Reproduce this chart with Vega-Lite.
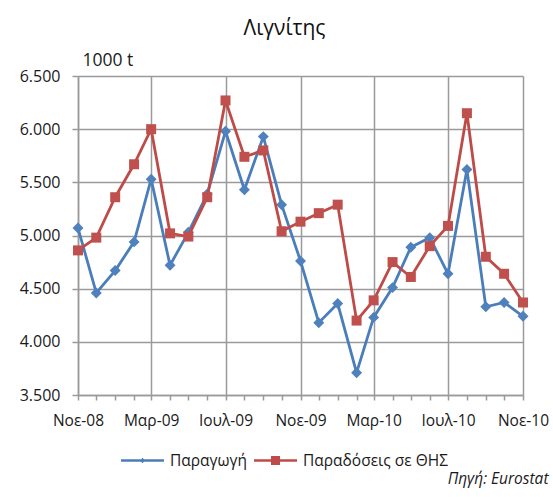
{
  "$schema": "https://vega.github.io/schema/vega-lite/v6.json",
  "width": 445,
  "height": 319,
  "autosize": {"type": "none"},
  "padding": {"left": 78, "top": 76, "right": 30, "bottom": 102},
  "background": "white",
  "title": {
    "text": "Λιγνίτης",
    "font": "Open Sans",
    "fontSize": 21,
    "fontWeight": "normal",
    "color": "#111",
    "anchor": "middle",
    "frame": "group",
    "dx": -16,
    "offset": 12
  },
  "datasets": {
    "lignite": [
      {"date": "2008-11-01", "series": "Παραγωγή", "value": 5070},
      {"date": "2008-12-01", "series": "Παραγωγή", "value": 4460},
      {"date": "2009-01-01", "series": "Παραγωγή", "value": 4670},
      {"date": "2009-02-01", "series": "Παραγωγή", "value": 4940},
      {"date": "2009-03-01", "series": "Παραγωγή", "value": 5530},
      {"date": "2009-04-01", "series": "Παραγωγή", "value": 4720},
      {"date": "2009-05-01", "series": "Παραγωγή", "value": 5030},
      {"date": "2009-06-01", "series": "Παραγωγή", "value": 5390},
      {"date": "2009-07-01", "series": "Παραγωγή", "value": 5980},
      {"date": "2009-08-01", "series": "Παραγωγή", "value": 5430},
      {"date": "2009-09-01", "series": "Παραγωγή", "value": 5930},
      {"date": "2009-10-01", "series": "Παραγωγή", "value": 5290},
      {"date": "2009-11-01", "series": "Παραγωγή", "value": 4760},
      {"date": "2009-12-01", "series": "Παραγωγή", "value": 4180},
      {"date": "2010-01-01", "series": "Παραγωγή", "value": 4360},
      {"date": "2010-02-01", "series": "Παραγωγή", "value": 3710},
      {"date": "2010-03-01", "series": "Παραγωγή", "value": 4230},
      {"date": "2010-04-01", "series": "Παραγωγή", "value": 4510},
      {"date": "2010-05-01", "series": "Παραγωγή", "value": 4890},
      {"date": "2010-06-01", "series": "Παραγωγή", "value": 4980},
      {"date": "2010-07-01", "series": "Παραγωγή", "value": 4640},
      {"date": "2010-08-01", "series": "Παραγωγή", "value": 5620},
      {"date": "2010-09-01", "series": "Παραγωγή", "value": 4330},
      {"date": "2010-10-01", "series": "Παραγωγή", "value": 4370},
      {"date": "2010-11-01", "series": "Παραγωγή", "value": 4240},
      {"date": "2008-11-01", "series": "Παραδόσεις σε ΘΗΣ", "value": 4860},
      {"date": "2008-12-01", "series": "Παραδόσεις σε ΘΗΣ", "value": 4980},
      {"date": "2009-01-01", "series": "Παραδόσεις σε ΘΗΣ", "value": 5360},
      {"date": "2009-02-01", "series": "Παραδόσεις σε ΘΗΣ", "value": 5670},
      {"date": "2009-03-01", "series": "Παραδόσεις σε ΘΗΣ", "value": 6000},
      {"date": "2009-04-01", "series": "Παραδόσεις σε ΘΗΣ", "value": 5020},
      {"date": "2009-05-01", "series": "Παραδόσεις σε ΘΗΣ", "value": 4990},
      {"date": "2009-06-01", "series": "Παραδόσεις σε ΘΗΣ", "value": 5360},
      {"date": "2009-07-01", "series": "Παραδόσεις σε ΘΗΣ", "value": 6270},
      {"date": "2009-08-01", "series": "Παραδόσεις σε ΘΗΣ", "value": 5740},
      {"date": "2009-09-01", "series": "Παραδόσεις σε ΘΗΣ", "value": 5800},
      {"date": "2009-10-01", "series": "Παραδόσεις σε ΘΗΣ", "value": 5040},
      {"date": "2009-11-01", "series": "Παραδόσεις σε ΘΗΣ", "value": 5130},
      {"date": "2009-12-01", "series": "Παραδόσεις σε ΘΗΣ", "value": 5210},
      {"date": "2010-01-01", "series": "Παραδόσεις σε ΘΗΣ", "value": 5290},
      {"date": "2010-02-01", "series": "Παραδόσεις σε ΘΗΣ", "value": 4200},
      {"date": "2010-03-01", "series": "Παραδόσεις σε ΘΗΣ", "value": 4390},
      {"date": "2010-04-01", "series": "Παραδόσεις σε ΘΗΣ", "value": 4750},
      {"date": "2010-05-01", "series": "Παραδόσεις σε ΘΗΣ", "value": 4610},
      {"date": "2010-06-01", "series": "Παραδόσεις σε ΘΗΣ", "value": 4900},
      {"date": "2010-07-01", "series": "Παραδόσεις σε ΘΗΣ", "value": 5090},
      {"date": "2010-08-01", "series": "Παραδόσεις σε ΘΗΣ", "value": 6150},
      {"date": "2010-09-01", "series": "Παραδόσεις σε ΘΗΣ", "value": 4800},
      {"date": "2010-10-01", "series": "Παραδόσεις σε ΘΗΣ", "value": 4640},
      {"date": "2010-11-01", "series": "Παραδόσεις σε ΘΗΣ", "value": 4370}
    ]
  },
  "data": {"name": "lignite"},
  "config": {
    "view": {"stroke": null},
    "font": "Open Sans",
    "axis": {
      "labelFont": "Open Sans",
      "labelFontSize": 15.5,
      "labelColor": "#1a1a1a",
      "domainColor": "#9a9a9a",
      "domainWidth": 1.5,
      "tickColor": "#9a9a9a",
      "tickWidth": 1.5,
      "gridColor": "#9a9a9a",
      "gridWidth": 1.5
    }
  },
  "encoding": {
    "x": {
      "field": "date",
      "type": "temporal",
      "scale": {"type": "utc", "domain": [{"year": 2008, "month": 11, "date": 1, "utc": true}, {"year": 2010, "month": 11, "date": 1, "utc": true}], "nice": false},
      "axis": {
        "title": "Πηγή: Eurostat",
        "titleFont": "Open Sans",
        "titleFontSize": 15.5,
        "titleFontStyle": "italic",
        "titleFontWeight": "normal",
        "titleColor": "#1a1a1a",
        "titleAnchor": "end",
        "titleAlign": "right",
        "titleBaseline": "middle",
        "titleX": 470,
        "titleY": 83,
        "values": [
          {"year": 2008, "month": 11, "date": 1, "utc": true},
          {"year": 2008, "month": 12, "date": 1, "utc": true},
          {"year": 2009, "month": 1, "date": 1, "utc": true},
          {"year": 2009, "month": 2, "date": 1, "utc": true},
          {"year": 2009, "month": 3, "date": 1, "utc": true},
          {"year": 2009, "month": 4, "date": 1, "utc": true},
          {"year": 2009, "month": 5, "date": 1, "utc": true},
          {"year": 2009, "month": 6, "date": 1, "utc": true},
          {"year": 2009, "month": 7, "date": 1, "utc": true},
          {"year": 2009, "month": 8, "date": 1, "utc": true},
          {"year": 2009, "month": 9, "date": 1, "utc": true},
          {"year": 2009, "month": 10, "date": 1, "utc": true},
          {"year": 2009, "month": 11, "date": 1, "utc": true},
          {"year": 2009, "month": 12, "date": 1, "utc": true},
          {"year": 2010, "month": 1, "date": 1, "utc": true},
          {"year": 2010, "month": 2, "date": 1, "utc": true},
          {"year": 2010, "month": 3, "date": 1, "utc": true},
          {"year": 2010, "month": 4, "date": 1, "utc": true},
          {"year": 2010, "month": 5, "date": 1, "utc": true},
          {"year": 2010, "month": 6, "date": 1, "utc": true},
          {"year": 2010, "month": 7, "date": 1, "utc": true},
          {"year": 2010, "month": 8, "date": 1, "utc": true},
          {"year": 2010, "month": 9, "date": 1, "utc": true},
          {"year": 2010, "month": 10, "date": 1, "utc": true},
          {"year": 2010, "month": 11, "date": 1, "utc": true}
        ],
        "labelExpr": "utcmonth(datum.value) % 4 == 2 ? ['Ιαν','Φεβ','Μαρ','Απρ','Μαϊ','Ιουν','Ιουλ','Αυγ','Σεπ','Οκτ','Νοε','Δεκ'][utcmonth(datum.value)] + '-' + utcFormat(datum.value, '%y') : ''",
        "labelOverlap": false,
        "labelFlush": false,
        "labelPadding": 13,
        "tickSize": 5,
        "grid": true,
        "gridOpacity": {"condition": {"test": "utcmonth(datum.value) % 4 == 2", "value": 1}, "value": 0}
      }
    },
    "y": {
      "field": "value",
      "type": "quantitative",
      "scale": {"domain": [3500, 6500], "nice": false, "zero": false},
      "axis": {
        "title": "1000 t",
        "titleFont": "Open Sans",
        "titleFontSize": 17.5,
        "titleFontWeight": "normal",
        "titleColor": "#1a1a1a",
        "titleAngle": 0,
        "titleAlign": "left",
        "titleBaseline": "alphabetic",
        "titleX": 4,
        "titleY": -11,
        "values": [3500, 4000, 4500, 5000, 5500, 6000, 6500],
        "labelExpr": "replace(format(datum.value, ','), ',', '.')",
        "labelFontSize": 16,
        "tickSize": 6,
        "labelPadding": 12,
        "grid": true
      }
    }
  },
  "layer": [
    {
      "mark": {"type": "line", "strokeWidth": 2.8, "color": "#4A7EBB"},
      "transform": [{"filter": "datum.series == 'Παραγωγή'"}]
    },
    {
      "mark": {"type": "point", "shape": "diamond", "filled": true, "size": 120, "opacity": 1, "color": "#4F81BD"},
      "transform": [{"filter": "datum.series == 'Παραγωγή'"}]
    },
    {
      "mark": {"type": "line", "strokeWidth": 2.8, "color": "#BE4B48"},
      "transform": [{"filter": "datum.series == 'Παραδόσεις σε ΘΗΣ'"}]
    },
    {
      "mark": {"type": "point", "shape": "square", "filled": true, "size": 100, "opacity": 1, "color": "#C0504D"},
      "transform": [{"filter": "datum.series == 'Παραδόσεις σε ΘΗΣ'"}]
    },
    {
      "mark": {"type": "point", "filled": true, "opacity": 0},
      "encoding": {
        "color": {
          "field": "series",
          "type": "nominal",
          "scale": {"domain": ["Παραγωγή", "Παραδόσεις σε ΘΗΣ"], "range": ["#4A7EBB", "#BE4B48"]},
          "legend": {
            "title": null,
            "orient": "none",
            "direction": "horizontal",
            "legendX": 43,
            "legendY": 363,
            "symbolSize": 1849,
            "symbolOpacity": 1,
            "symbolStrokeWidth": 0,
            "labelFont": "Open Sans",
            "labelFontSize": 15.5,
            "labelColor": "#1a1a1a",
            "labelOffset": 6,
            "columnPadding": 7,
            "padding": 0
          }
        },
        "shape": {
          "field": "series",
          "type": "nominal",
          "scale": {
            "domain": ["Παραγωγή", "Παραδόσεις σε ΘΗΣ"],
            "range": [
              "M-1,-0.06H1V0.06H-1Z M0,-0.13L0.12,0L0,0.13L-0.12,0Z",
              "M-1,-0.06H1V0.06H-1Z M-0.21,-0.21H0.21V0.21H-0.21Z"
            ]
          },
          "legend": {
            "title": null,
            "orient": "none",
            "direction": "horizontal",
            "legendX": 43,
            "legendY": 363,
            "symbolSize": 1849,
            "symbolOpacity": 1,
            "symbolStrokeWidth": 0,
            "labelFont": "Open Sans",
            "labelFontSize": 15.5,
            "labelColor": "#1a1a1a",
            "labelOffset": 6,
            "columnPadding": 7,
            "padding": 0
          }
        }
      }
    }
  ]
}
